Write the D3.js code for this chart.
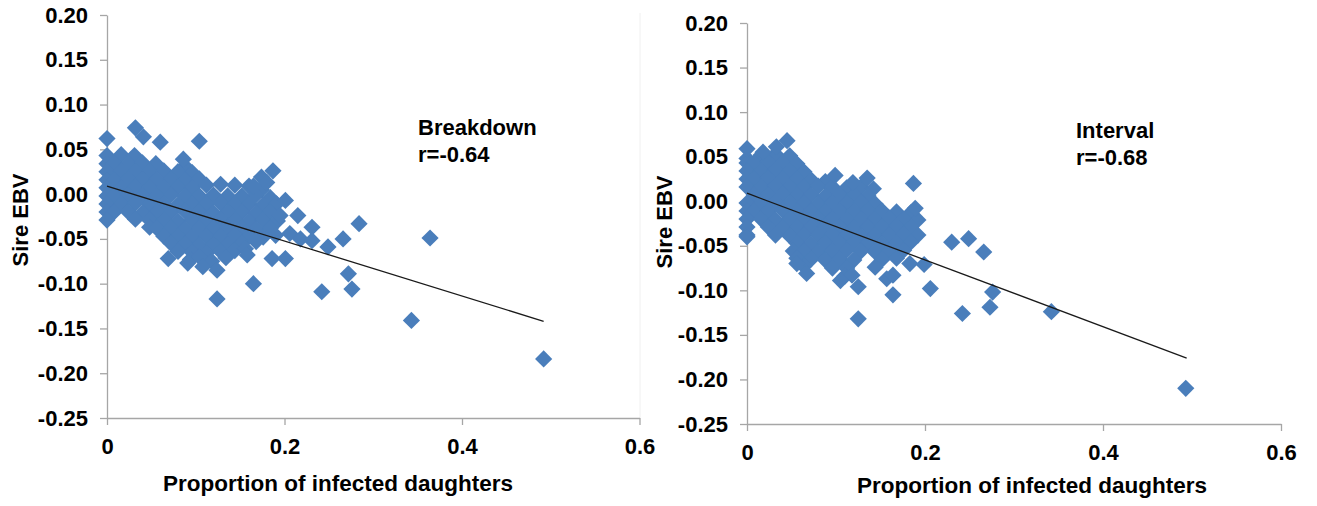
<!DOCTYPE html>
<html><head><meta charset="utf-8">
<script src="https://cdn.jsdelivr.net/npm/d3@7"></script>
<style>
body{margin:0;background:#fff}
svg{display:block}
text{font-family:Arial,"Liberation Sans",sans-serif;font-weight:bold;fill:#000}
</style>
</head><body>
<svg id="c" width="1317" height="506"></svg>
<script>
// ---------- data ----------
const xTicks = [0, 0.2, 0.4, 0.6];
const xTickLabels = ["0", "0.2", "0.4", "0.6"];
const yTicks = [-0.25, -0.20, -0.15, -0.10, -0.05, 0.00, 0.05, 0.10, 0.15, 0.20];
const yTickLabels = ["-0.25", "-0.20", "-0.15", "-0.10", "-0.05", "0.00", "0.05", "0.10", "0.15", "0.20"];
const xTitle = "Proportion of infected daughters";
const yTitle = "Sire EBV";
const panelNames = ["Breakdown", "Interval"];
const panelR = ["r=-0.64", "r=-0.68"];

// Breakdown: sire EBV vs proportion of infected daughters
const breakdownPoints = [
  [0,0.043],[0.016,0.044],[0.031,0.043],
  [0,0.034],[0.008,0.035],[0.024,0.034],[0.040,0.035],[0.055,0.034],[0.088,0.031],
  [0,0.025],[0.016,0.026],[0.032,0.025],[0.048,0.025],[0.064,0.026],[0.080,0.025],[0.096,0.024],
  [0,0.016],[0.008,0.016],[0.024,0.017],[0.040,0.016],[0.056,0.016],[0.072,0.017],[0.088,0.016],[0.104,0.017],
  [0,0.007],[0.016,0.007],[0.032,0.008],[0.048,0.007],[0.064,0.007],[0.080,0.008],[0.096,0.007],[0.112,0.010],[0.128,0.011],[0.144,0.010],[0.160,0.009],[0.174,0.005],
  [0,-0.002],[0.008,-0.002],[0.024,-0.001],[0.040,-0.002],[0.056,-0.002],[0.072,-0.001],[0.088,-0.002],[0.104,-0.002],[0.120,-0.001],[0.136,-0.002],[0.152,-0.002],[0.168,-0.001],[0.184,-0.004],
  [0,-0.011],[0.016,-0.011],[0.032,-0.010],[0.048,-0.011],[0.064,-0.011],[0.080,-0.012],[0.096,-0.011],[0.112,-0.011],[0.128,-0.010],[0.144,-0.011],[0.160,-0.011],[0.176,-0.012],[0.191,-0.011],
  [0,-0.020],[0.008,-0.020],[0.024,-0.020],[0.040,-0.021],[0.056,-0.020],[0.072,-0.020],[0.088,-0.019],[0.104,-0.020],[0.120,-0.021],[0.136,-0.020],[0.152,-0.020],[0.168,-0.021],[0.184,-0.020],
  [0,-0.029],[0.032,-0.028],[0.048,-0.029],[0.064,-0.029],[0.080,-0.030],[0.096,-0.029],[0.112,-0.029],[0.128,-0.028],[0.144,-0.029],[0.160,-0.030],[0.176,-0.029],[0.192,-0.030],
  [0.048,-0.037],[0.056,-0.038],[0.072,-0.038],[0.088,-0.039],[0.104,-0.038],[0.120,-0.038],[0.136,-0.037],[0.152,-0.038],[0.168,-0.039],[0.184,-0.038],
  [0.064,-0.047],[0.080,-0.047],[0.096,-0.048],[0.112,-0.047],[0.128,-0.047],[0.144,-0.046],[0.160,-0.047],[0.176,-0.048],[0.190,-0.046],
  [0.072,-0.055],[0.088,-0.056],[0.104,-0.057],[0.120,-0.056],[0.136,-0.056],[0.152,-0.055],[0.168,-0.053],
  [0.080,-0.064],[0.096,-0.065],[0.112,-0.066],[0.128,-0.064],[0.144,-0.063],[0.156,-0.061],
  [0.094,-0.073],[0.104,-0.070],[0.118,-0.075],[0.134,-0.071],
  [0,0.062],[0.032,0.074],[0.041,0.064],[0.060,0.058],[0.104,0.059],[0.086,0.039],
  [0.174,0.019],[0.187,0.026],[0.180,0.013],[0.165,0.009],[0.201,-0.007],[0.195,-0.024],[0.215,-0.024],
  [0.206,-0.044],[0.218,-0.050],[0.231,-0.037],[0.231,-0.052],[0.249,-0.059],[0.266,-0.050],[0.284,-0.033],[0.364,-0.049],
  [0.069,-0.072],[0.091,-0.077],[0.108,-0.081],[0.124,-0.085],[0.158,-0.068],[0.186,-0.072],[0.201,-0.072],
  [0.272,-0.089],[0.276,-0.106],[0.242,-0.109],[0.165,-0.100],[0.124,-0.117],[0.343,-0.141],[0.492,-0.184]
];

// Interval: sire EBV vs proportion of infected daughters
const intervalPoints = [
  [0,0.048],[0.016,0.052],[0.032,0.053],[0.048,0.051],
  [0,0.043],[0.008,0.043],[0.024,0.044],[0.040,0.043],[0.056,0.042],
  [0,0.034],[0.016,0.034],[0.032,0.035],[0.048,0.034],[0.064,0.033],
  [0,0.025],[0.008,0.025],[0.024,0.026],[0.040,0.025],[0.056,0.025],[0.072,0.024],[0.088,0.022],
  [0,0.016],[0.016,0.016],[0.032,0.017],[0.048,0.016],[0.064,0.016],[0.080,0.017],[0.096,0.016],[0.112,0.015],[0.128,0.016],[0.142,0.014],
  [0.008,0.007],[0.024,0.007],[0.040,0.008],[0.056,0.007],[0.072,0.007],[0.088,0.006],[0.104,0.007],[0.120,0.007],[0.136,0.006],
  [0,-0.002],[0.016,-0.002],[0.032,-0.001],[0.048,-0.002],[0.064,-0.002],[0.080,-0.003],[0.096,-0.002],[0.112,-0.002],[0.128,-0.001],[0.144,-0.003],
  [0,-0.011],[0.008,-0.011],[0.024,-0.011],[0.040,-0.010],[0.056,-0.011],[0.072,-0.011],[0.088,-0.012],[0.104,-0.011],[0.120,-0.011],[0.136,-0.010],[0.152,-0.011],[0.168,-0.012],[0.184,-0.013],
  [0,-0.020],[0.016,-0.020],[0.032,-0.021],[0.048,-0.020],[0.064,-0.020],[0.080,-0.019],[0.096,-0.020],[0.112,-0.021],[0.128,-0.020],[0.144,-0.020],[0.160,-0.019],[0.176,-0.020],[0.192,-0.021],
  [0,-0.029],[0.024,-0.029],[0.040,-0.030],[0.056,-0.029],[0.072,-0.029],[0.088,-0.028],[0.104,-0.029],[0.120,-0.030],[0.136,-0.029],[0.152,-0.029],[0.168,-0.028],[0.184,-0.029],
  [0,-0.038],[0.032,-0.038],[0.048,-0.039],[0.064,-0.038],[0.080,-0.038],[0.096,-0.037],[0.112,-0.038],[0.128,-0.039],[0.144,-0.038],[0.160,-0.038],[0.176,-0.037],[0.192,-0.038],
  [0.056,-0.047],[0.072,-0.048],[0.088,-0.047],[0.104,-0.047],[0.120,-0.046],[0.136,-0.047],[0.152,-0.048],[0.168,-0.047],[0.184,-0.046],
  [0.052,-0.056],[0.064,-0.056],[0.080,-0.057],[0.096,-0.056],[0.112,-0.055],[0.128,-0.056],[0.144,-0.057],[0.160,-0.056],[0.176,-0.055],
  [0.056,-0.064],[0.072,-0.065],[0.088,-0.066],[0.104,-0.065],[0.120,-0.066],[0.152,-0.065],[0.168,-0.064],
  [0.064,-0.073],[0.096,-0.075],[0.112,-0.075],[0.144,-0.074],[0.110,-0.084],[0.118,-0.083],
  [0,0.059],[0.018,0.055],[0.033,0.061],[0.045,0.068],[0.099,0.029],[0.119,0.021],[0.135,0.026],
  [0.187,0.020],[0.189,-0.008],[0,-0.040],[0.056,-0.070],[0.067,-0.081],[0.105,-0.089],[0.125,-0.096],
  [0.157,-0.087],[0.164,-0.083],[0.164,-0.105],[0.183,-0.070],[0.199,-0.071],[0.206,-0.098],[0.125,-0.132],
  [0.230,-0.046],[0.249,-0.042],[0.266,-0.057],[0.276,-0.102],[0.273,-0.119],[0.242,-0.126],
  [0.342,-0.124],[0.493,-0.210]
];

const breakdownTrend = [[0, 0.009], [0.492, -0.142]];
const intervalTrend = [[0, 0.009], [0.494, -0.176]];

// ---------- layout ----------
const panels = [
  {pts: breakdownPoints, trend: breakdownTrend, name: panelNames[0], r: panelR[0],
   left: 107, right: 639.5, top: 15, bottom: 418,
   yTitleX: 28, yTitleY: 220, xTitleX: 338, xTitleY: 491, annX: 418, annY: 135, border: true},
  {pts: intervalPoints, trend: intervalTrend, name: panelNames[1], r: panelR[1],
   left: 747, right: 1281, top: 23, bottom: 424,
   yTitleX: 672, yTitleY: 222, xTitleX: 1032, xTitleY: 493, annX: 1076, annY: 138, border: false}
];

const svg = d3.select("#c");
const H = 8.6;
const diamond = `M0,${-H}L${H},0L0,${H}L${-H},0Z`;
const axisColor = "#a6a6a6";

panels.forEach(p => {
  const x = d3.scaleLinear().domain([0, 0.6]).range([p.left, p.right]);
  const y = d3.scaleLinear().domain([-0.25, 0.20]).range([p.bottom, p.top]);
  const g = svg.append("g");

  if (p.border) {
    g.append("line").attr("x1", p.right + 0.5).attr("x2", p.right + 0.5)
      .attr("y1", p.top - 2).attr("y2", p.bottom).attr("stroke", "#f0f0f0");
  }

  const ya = g.append("g").attr("transform", `translate(${p.left},0)`)
    .call(d3.axisLeft(y).tickValues(yTicks).tickFormat((d, i) => yTickLabels[i])
      .tickSize(7).tickPadding(12).tickSizeOuter(0));
  const xa = g.append("g").attr("transform", `translate(0,${p.bottom})`)
    .call(d3.axisBottom(x).tickValues(xTicks).tickFormat((d, i) => xTickLabels[i])
      .tickSize(7).tickPadding(13).tickSizeOuter(0));
  [ya, xa].forEach(a => {
    a.attr("font-family", null).attr("font-size", null);
    a.select(".domain").attr("stroke", axisColor).attr("stroke-width", 1.3);
    a.selectAll(".tick line").attr("stroke", axisColor).attr("stroke-width", 1.3);
    a.selectAll(".tick text").style("font-size", "22px");
  });

  g.append("g").selectAll("path").data(p.pts).join("path")
    .attr("d", diamond)
    .attr("transform", d => `translate(${x(d[0])},${y(d[1])})`)
    .attr("fill", "#4A7EBB");

  g.append("path").datum(p.trend)
    .attr("d", d3.line().x(d => x(d[0])).y(d => y(d[1])))
    .attr("stroke", "#1a1a1a").attr("stroke-width", 1.3).attr("fill", "none");

  g.append("text").attr("x", p.annX).attr("y", p.annY).style("font-size", "22px").text(p.name);
  g.append("text").attr("x", p.annX).attr("y", p.annY + 27).style("font-size", "22px").text(p.r);

  g.append("text").attr("x", p.xTitleX).attr("y", p.xTitleY).attr("text-anchor", "middle")
    .style("font-size", "22.5px").text(xTitle);
  g.append("text").attr("transform", `translate(${p.yTitleX},${p.yTitleY}) rotate(-90)`)
    .attr("text-anchor", "middle").style("font-size", "22px").text(yTitle);
});
</script>
</body></html>
